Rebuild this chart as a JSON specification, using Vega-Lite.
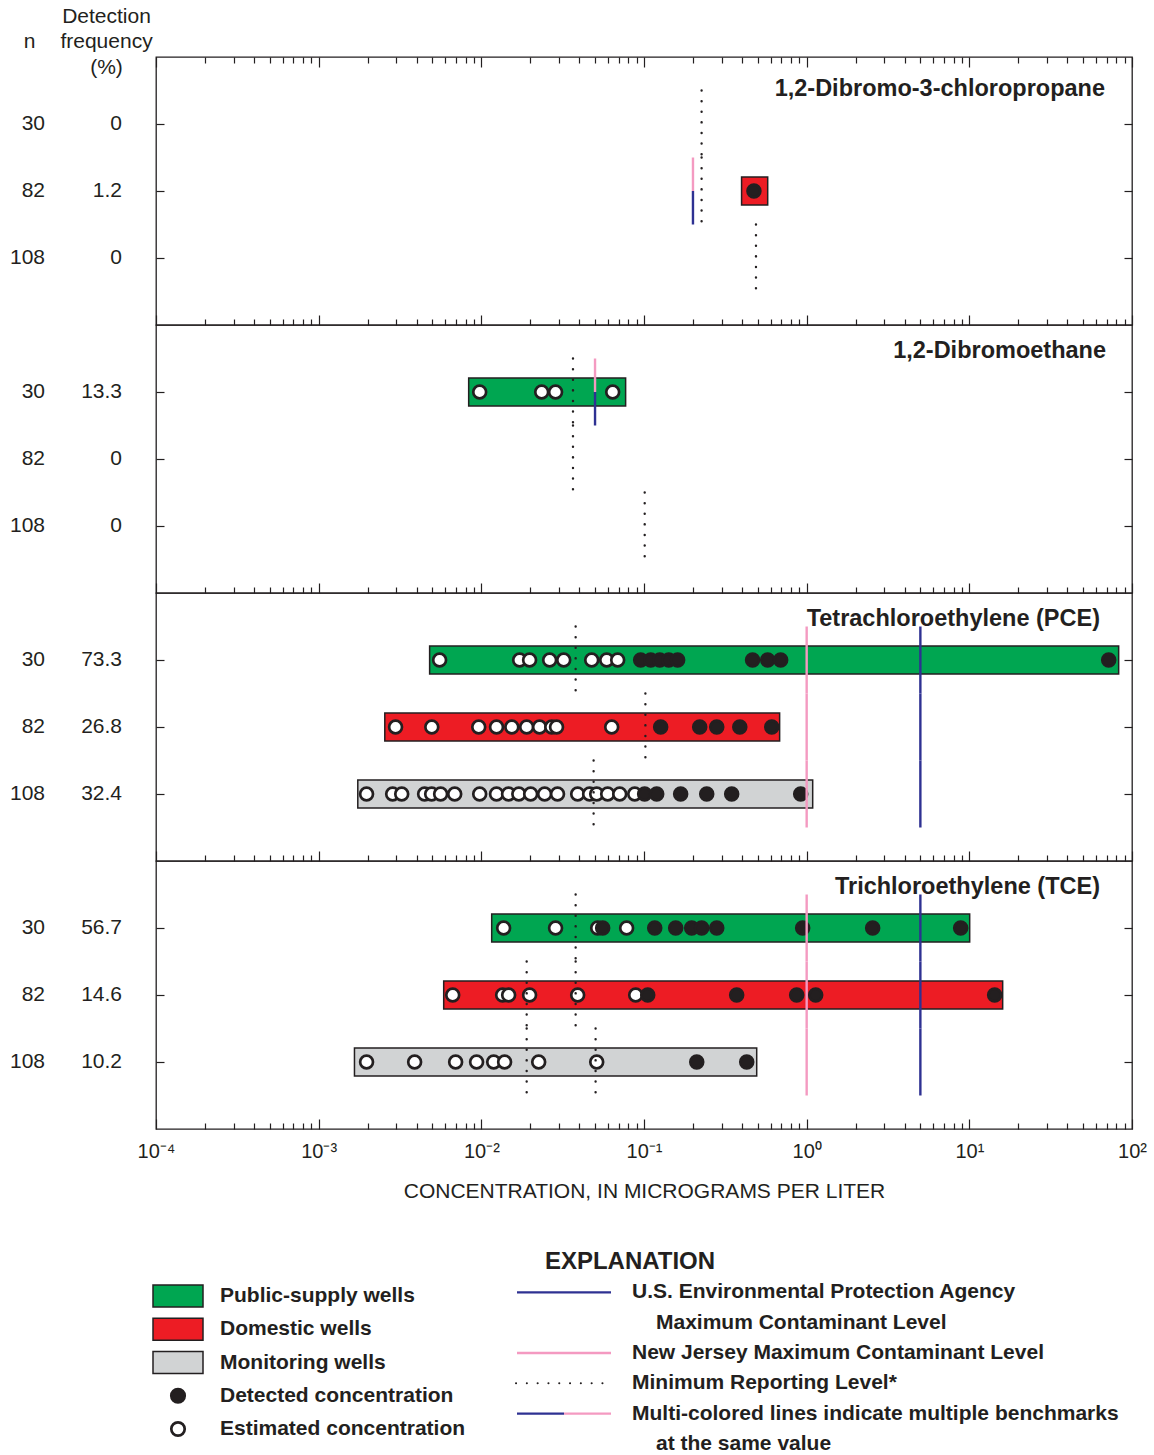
{
  "$schema": "https://vega.github.io/schema/vega-lite/v6.json",
  "background": "#ffffff",
  "padding": {"left": 0, "top": 5, "right": 0, "bottom": 0},
  "config": {
    "font": "Liberation Sans",
    "view": {"stroke": "#231F20", "strokeWidth": 1.3},
    "axis": {"grid": false, "domain": false, "tickColor": "#231F20", "tickWidth": 1.2, "labelColor": "#231F20", "titleColor": "#231F20", "labelFont": "Liberation Sans", "titleFont": "Liberation Sans", "titleFontWeight": "normal"},
    "text": {"font": "Liberation Sans", "color": "#231F20"},
    "title": {"font": "Liberation Sans", "fontWeight": "bold", "fontSize": 23.5, "color": "#231F20"}
  },
  "datasets": {
    "rowinfo": [
      {"chem": "DBCP", "well": "PS", "n": 30, "freq": 0},
      {"chem": "DBCP", "well": "DOM", "n": 82, "freq": 1.2},
      {"chem": "DBCP", "well": "MON", "n": 108, "freq": 0},
      {"chem": "EDB", "well": "PS", "n": 30, "freq": 13.3},
      {"chem": "EDB", "well": "DOM", "n": 82, "freq": 0},
      {"chem": "EDB", "well": "MON", "n": 108, "freq": 0},
      {"chem": "PCE", "well": "PS", "n": 30, "freq": 73.3},
      {"chem": "PCE", "well": "DOM", "n": 82, "freq": 26.8},
      {"chem": "PCE", "well": "MON", "n": 108, "freq": 32.4},
      {"chem": "TCE", "well": "PS", "n": 30, "freq": 56.7},
      {"chem": "TCE", "well": "DOM", "n": 82, "freq": 14.6},
      {"chem": "TCE", "well": "MON", "n": 108, "freq": 10.2}
    ],
    "ranges": [
      {"chem": "DBCP", "well": "DOM", "lo": 0.398, "hi": 0.576},
      {"chem": "EDB", "well": "PS", "lo": 0.00836, "hi": 0.0771},
      {"chem": "PCE", "well": "PS", "lo": 0.00481, "hi": 82.8},
      {"chem": "PCE", "well": "DOM", "lo": 0.00255, "hi": 0.682},
      {"chem": "PCE", "well": "MON", "lo": 0.00174, "hi": 1.089},
      {"chem": "TCE", "well": "PS", "lo": 0.01158, "hi": 10.05},
      {"chem": "TCE", "well": "DOM", "lo": 0.00587, "hi": 16.03},
      {"chem": "TCE", "well": "MON", "lo": 0.00166, "hi": 0.493}
    ],
    "conc": [
      {"chem": "DBCP", "well": "DOM", "value": 0.474, "status": "Detected"},
      {"chem": "EDB", "well": "PS", "value": 0.00977, "status": "Estimated"},
      {"chem": "EDB", "well": "PS", "value": 0.0235, "status": "Estimated"},
      {"chem": "EDB", "well": "PS", "value": 0.0286, "status": "Estimated"},
      {"chem": "EDB", "well": "PS", "value": 0.0642, "status": "Estimated"},
      {"chem": "PCE", "well": "PS", "value": 0.00554, "status": "Estimated"},
      {"chem": "PCE", "well": "PS", "value": 0.0172, "status": "Estimated"},
      {"chem": "PCE", "well": "PS", "value": 0.0198, "status": "Estimated"},
      {"chem": "PCE", "well": "PS", "value": 0.0263, "status": "Estimated"},
      {"chem": "PCE", "well": "PS", "value": 0.0321, "status": "Estimated"},
      {"chem": "PCE", "well": "PS", "value": 0.0477, "status": "Estimated"},
      {"chem": "PCE", "well": "PS", "value": 0.059, "status": "Estimated"},
      {"chem": "PCE", "well": "PS", "value": 0.0689, "status": "Estimated"},
      {"chem": "PCE", "well": "PS", "value": 0.0954, "status": "Detected"},
      {"chem": "PCE", "well": "PS", "value": 0.11, "status": "Detected"},
      {"chem": "PCE", "well": "PS", "value": 0.125, "status": "Detected"},
      {"chem": "PCE", "well": "PS", "value": 0.142, "status": "Detected"},
      {"chem": "PCE", "well": "PS", "value": 0.161, "status": "Detected"},
      {"chem": "PCE", "well": "PS", "value": 0.465, "status": "Detected"},
      {"chem": "PCE", "well": "PS", "value": 0.576, "status": "Detected"},
      {"chem": "PCE", "well": "PS", "value": 0.692, "status": "Detected"},
      {"chem": "PCE", "well": "PS", "value": 71.9, "status": "Detected"},
      {"chem": "PCE", "well": "DOM", "value": 0.00297, "status": "Estimated"},
      {"chem": "PCE", "well": "DOM", "value": 0.00496, "status": "Estimated"},
      {"chem": "PCE", "well": "DOM", "value": 0.00964, "status": "Estimated"},
      {"chem": "PCE", "well": "DOM", "value": 0.0124, "status": "Estimated"},
      {"chem": "PCE", "well": "DOM", "value": 0.0154, "status": "Estimated"},
      {"chem": "PCE", "well": "DOM", "value": 0.019, "status": "Estimated"},
      {"chem": "PCE", "well": "DOM", "value": 0.0228, "status": "Estimated"},
      {"chem": "PCE", "well": "DOM", "value": 0.0271, "status": "Estimated"},
      {"chem": "PCE", "well": "DOM", "value": 0.029, "status": "Estimated"},
      {"chem": "PCE", "well": "DOM", "value": 0.0633, "status": "Estimated"},
      {"chem": "PCE", "well": "DOM", "value": 0.1266, "status": "Detected"},
      {"chem": "PCE", "well": "DOM", "value": 0.22, "status": "Detected"},
      {"chem": "PCE", "well": "DOM", "value": 0.28, "status": "Detected"},
      {"chem": "PCE", "well": "DOM", "value": 0.388, "status": "Detected"},
      {"chem": "PCE", "well": "DOM", "value": 0.61, "status": "Detected"},
      {"chem": "PCE", "well": "MON", "value": 0.00197, "status": "Estimated"},
      {"chem": "PCE", "well": "MON", "value": 0.00285, "status": "Estimated"},
      {"chem": "PCE", "well": "MON", "value": 0.00324, "status": "Estimated"},
      {"chem": "PCE", "well": "MON", "value": 0.00448, "status": "Estimated"},
      {"chem": "PCE", "well": "MON", "value": 0.00495, "status": "Estimated"},
      {"chem": "PCE", "well": "MON", "value": 0.00562, "status": "Estimated"},
      {"chem": "PCE", "well": "MON", "value": 0.00686, "status": "Estimated"},
      {"chem": "PCE", "well": "MON", "value": 0.00977, "status": "Estimated"},
      {"chem": "PCE", "well": "MON", "value": 0.0124, "status": "Estimated"},
      {"chem": "PCE", "well": "MON", "value": 0.0147, "status": "Estimated"},
      {"chem": "PCE", "well": "MON", "value": 0.017, "status": "Estimated"},
      {"chem": "PCE", "well": "MON", "value": 0.0201, "status": "Estimated"},
      {"chem": "PCE", "well": "MON", "value": 0.0245, "status": "Estimated"},
      {"chem": "PCE", "well": "MON", "value": 0.0294, "status": "Estimated"},
      {"chem": "PCE", "well": "MON", "value": 0.0391, "status": "Estimated"},
      {"chem": "PCE", "well": "MON", "value": 0.0463, "status": "Estimated"},
      {"chem": "PCE", "well": "MON", "value": 0.0512, "status": "Estimated"},
      {"chem": "PCE", "well": "MON", "value": 0.0598, "status": "Estimated"},
      {"chem": "PCE", "well": "MON", "value": 0.0709, "status": "Estimated"},
      {"chem": "PCE", "well": "MON", "value": 0.0877, "status": "Estimated"},
      {"chem": "PCE", "well": "MON", "value": 0.1009, "status": "Detected"},
      {"chem": "PCE", "well": "MON", "value": 0.1197, "status": "Detected"},
      {"chem": "PCE", "well": "MON", "value": 0.168, "status": "Detected"},
      {"chem": "PCE", "well": "MON", "value": 0.243, "status": "Detected"},
      {"chem": "PCE", "well": "MON", "value": 0.346, "status": "Detected"},
      {"chem": "PCE", "well": "MON", "value": 0.919, "status": "Detected"},
      {"chem": "TCE", "well": "PS", "value": 0.01371, "status": "Estimated"},
      {"chem": "TCE", "well": "PS", "value": 0.0286, "status": "Estimated"},
      {"chem": "TCE", "well": "PS", "value": 0.0519, "status": "Estimated"},
      {"chem": "TCE", "well": "PS", "value": 0.0557, "status": "Detected"},
      {"chem": "TCE", "well": "PS", "value": 0.0782, "status": "Estimated"},
      {"chem": "TCE", "well": "PS", "value": 0.1164, "status": "Detected"},
      {"chem": "TCE", "well": "PS", "value": 0.1566, "status": "Detected"},
      {"chem": "TCE", "well": "PS", "value": 0.1964, "status": "Detected"},
      {"chem": "TCE", "well": "PS", "value": 0.2262, "status": "Detected"},
      {"chem": "TCE", "well": "PS", "value": 0.28, "status": "Detected"},
      {"chem": "TCE", "well": "PS", "value": 0.945, "status": "Detected"},
      {"chem": "TCE", "well": "PS", "value": 2.545, "status": "Detected"},
      {"chem": "TCE", "well": "PS", "value": 8.845, "status": "Detected"},
      {"chem": "TCE", "well": "DOM", "value": 0.00667, "status": "Estimated"},
      {"chem": "TCE", "well": "DOM", "value": 0.01352, "status": "Estimated"},
      {"chem": "TCE", "well": "DOM", "value": 0.01472, "status": "Estimated"},
      {"chem": "TCE", "well": "DOM", "value": 0.0198, "status": "Estimated"},
      {"chem": "TCE", "well": "DOM", "value": 0.0391, "status": "Estimated"},
      {"chem": "TCE", "well": "DOM", "value": 0.0889, "status": "Estimated"},
      {"chem": "TCE", "well": "DOM", "value": 0.1054, "status": "Detected"},
      {"chem": "TCE", "well": "DOM", "value": 0.3713, "status": "Detected"},
      {"chem": "TCE", "well": "DOM", "value": 0.868, "status": "Detected"},
      {"chem": "TCE", "well": "DOM", "value": 1.136, "status": "Detected"},
      {"chem": "TCE", "well": "DOM", "value": 14.31, "status": "Detected"},
      {"chem": "TCE", "well": "MON", "value": 0.00197, "status": "Estimated"},
      {"chem": "TCE", "well": "MON", "value": 0.00389, "status": "Estimated"},
      {"chem": "TCE", "well": "MON", "value": 0.00695, "status": "Estimated"},
      {"chem": "TCE", "well": "MON", "value": 0.00935, "status": "Estimated"},
      {"chem": "TCE", "well": "MON", "value": 0.01191, "status": "Estimated"},
      {"chem": "TCE", "well": "MON", "value": 0.0139, "status": "Estimated"},
      {"chem": "TCE", "well": "MON", "value": 0.02252, "status": "Estimated"},
      {"chem": "TCE", "well": "MON", "value": 0.0512, "status": "Estimated"},
      {"chem": "TCE", "well": "MON", "value": 0.211, "status": "Detected"},
      {"chem": "TCE", "well": "MON", "value": 0.428, "status": "Detected"}
    ],
    "bench": [
      {"chem": "DBCP", "well": "PS", "kind": "MRL", "span": "full", "value": 0.226},
      {"chem": "DBCP", "well": "DOM", "kind": "MRL", "span": "full", "value": 0.226},
      {"chem": "DBCP", "well": "MON", "kind": "MRL", "span": "full", "value": 0.488},
      {"chem": "DBCP", "well": "DOM", "kind": "NJ", "span": "top", "value": 0.2},
      {"chem": "DBCP", "well": "DOM", "kind": "EPA", "span": "bottom", "value": 0.2},
      {"chem": "EDB", "well": "PS", "kind": "MRL", "span": "full", "value": 0.0366},
      {"chem": "EDB", "well": "DOM", "kind": "MRL", "span": "full", "value": 0.0366},
      {"chem": "EDB", "well": "MON", "kind": "MRL", "span": "full", "value": 0.101},
      {"chem": "EDB", "well": "PS", "kind": "NJ", "span": "top", "value": 0.05},
      {"chem": "EDB", "well": "PS", "kind": "EPA", "span": "bottom", "value": 0.05},
      {"chem": "PCE", "well": "PS", "kind": "MRL", "span": "full", "value": 0.038},
      {"chem": "PCE", "well": "DOM", "kind": "MRL", "span": "full", "value": 0.102},
      {"chem": "PCE", "well": "MON", "kind": "MRL", "span": "full", "value": 0.049},
      {"chem": "PCE", "well": "PS", "kind": "NJ", "span": "full", "value": 1},
      {"chem": "PCE", "well": "DOM", "kind": "NJ", "span": "full", "value": 1},
      {"chem": "PCE", "well": "MON", "kind": "NJ", "span": "full", "value": 1},
      {"chem": "PCE", "well": "PS", "kind": "EPA", "span": "full", "value": 5},
      {"chem": "PCE", "well": "DOM", "kind": "EPA", "span": "full", "value": 5},
      {"chem": "PCE", "well": "MON", "kind": "EPA", "span": "full", "value": 5},
      {"chem": "TCE", "well": "PS", "kind": "MRL", "span": "full", "value": 0.038},
      {"chem": "TCE", "well": "DOM", "kind": "MRL", "span": "full", "value": 0.038},
      {"chem": "TCE", "well": "DOM", "kind": "MRL", "span": "full", "value": 0.019},
      {"chem": "TCE", "well": "MON", "kind": "MRL", "span": "full", "value": 0.019},
      {"chem": "TCE", "well": "MON", "kind": "MRL", "span": "full", "value": 0.0504},
      {"chem": "TCE", "well": "PS", "kind": "NJ", "span": "full", "value": 1},
      {"chem": "TCE", "well": "DOM", "kind": "NJ", "span": "full", "value": 1},
      {"chem": "TCE", "well": "MON", "kind": "NJ", "span": "full", "value": 1},
      {"chem": "TCE", "well": "PS", "kind": "EPA", "span": "full", "value": 5},
      {"chem": "TCE", "well": "DOM", "kind": "EPA", "span": "full", "value": 5},
      {"chem": "TCE", "well": "MON", "kind": "EPA", "span": "full", "value": 5}
    ],
    "legendLeft": [
      {"key": "PS", "sym": "swatch", "label": "Public-supply wells"},
      {"key": "DOM", "sym": "swatch", "label": "Domestic wells"},
      {"key": "MON", "sym": "swatch", "label": "Monitoring wells"},
      {"key": "Detected", "sym": "dot", "label": "Detected concentration"},
      {"key": "Estimated", "sym": "dot", "label": "Estimated concentration"}
    ],
    "legendRight": [
      {"slot": 0, "role": "head", "text": "EXPLANATION"},
      {"slot": 1, "role": "text", "text": "U.S. Environmental Protection Agency"},
      {"slot": 2, "role": "indent", "text": "Maximum Contaminant Level"},
      {"slot": 3, "role": "text", "text": "New Jersey Maximum Contaminant Level"},
      {"slot": 4, "role": "text", "text": "Minimum Reporting Level*"},
      {"slot": 5, "role": "text", "text": "Multi-colored lines indicate multiple benchmarks"},
      {"slot": 6, "role": "indent", "text": "at the same value"}
    ],
    "legendLines": [
      {"slot": 1, "kind": "EPA", "seg": "full"},
      {"slot": 3, "kind": "NJ", "seg": "full"},
      {"slot": 4, "kind": "MRL", "seg": "full"},
      {"slot": 5, "kind": "EPA", "seg": "left"},
      {"slot": 5, "kind": "NJ", "seg": "right"}
    ]
  },
  "columns": 2,
  "align": "each",
  "bounds": "flush",
  "spacing": 0,
  "concat": [
    {
      "width": 156, "height": 268, "view": {"stroke": null},
      "data": {"name": "rowinfo"},
      "transform": [{"filter": "datum.chem === 'DBCP'"}, {"fold": ["n", "freq"], "as": ["col", "val"]}],
      "mark": {"type": "text", "align": "right", "baseline": "middle", "fontSize": 21},
      "encoding": {
        "x": {"field": "col", "type": "nominal", "scale": {"type": "point", "domain": ["n", "freq"], "padding": 0.513, "align": 0.57},
              "axis": {"orient": "top", "ticks": false, "domain": false, "title": null, "labelAngle": 0, "labelFontSize": 21, "labelPadding": 41, "labelBaseline": "middle", "labelAlign": "center", "labelOffset": -16, "labelLineHeight": 25.5, "labelExpr": "datum.value === 'n' ? ['', 'n'] : ['Detection', 'frequency', '(%)']"}},
        "y": {"field": "well", "type": "nominal", "scale": {"type": "band", "domain": ["PS", "DOM", "MON"], "paddingInner": 0, "paddingOuter": 0.5}, "axis": null},
        "text": {"field": "val", "type": "nominal"}
      }
    },
    {
      "width": 976, "height": 268,
      "title": {"text": "1,2-Dibromo-3-chloropropane", "anchor": "end", "frame": "group", "offset": -44, "dx": -27},
      "layer": [
        {"data": {"name": "ranges"}, "transform": [{"filter": "datum.chem === 'DBCP'"}],
         "mark": {"type": "bar", "height": {"band": 0.42}, "stroke": "#231F20", "strokeWidth": 1.5},
         "encoding": {
           "x": {"field": "lo", "type": "quantitative", "scale": {"type": "log", "domain": [0.0001, 100], "nice": false},
                 "axis": {"orient": "bottom", "values": [0.0001, 0.001, 0.01, 0.1, 1, 10, 100], "tickSize": -10, "labels": false, "title": null}},
           "x2": {"field": "hi"},
           "y": {"field": "well", "type": "nominal", "scale": {"type": "band", "domain": ["PS", "DOM", "MON"], "paddingInner": 0, "paddingOuter": 0.5},
                 "axis": {"orient": "left", "tickSize": -8, "labels": false, "title": null}},
           "fill": {"field": "well", "type": "nominal", "scale": {"domain": ["PS", "DOM", "MON", "Detected", "Estimated"], "range": ["#00A651", "#ED1C24", "#D1D3D4", "#231F20", "#FFFFFF"]}, "legend": null}}},
        {"data": {"name": "conc"}, "transform": [{"filter": "datum.chem === 'DBCP'"}],
         "mark": {"type": "circle", "size": 165, "stroke": "#231F20", "strokeWidth": 2.7, "opacity": 1},
         "encoding": {
           "x": {"field": "value", "type": "quantitative", "scale": {"type": "log", "domain": [0.0001, 100], "nice": false},
                 "axis": {"orient": "bottom", "values": [0.0002,0.0003,0.0004,0.0005,0.0006,0.0007,0.0008,0.0009,0.002,0.003,0.004,0.005,0.006,0.007,0.008,0.009,0.02,0.03,0.04,0.05,0.06,0.07,0.08,0.09,0.2,0.3,0.4,0.5,0.6,0.7,0.8,0.9,2,3,4,5,6,7,8,9,20,30,40,50,60,70,80,90], "tickSize": -6, "labels": false, "title": null}},
           "y": {"field": "well", "type": "nominal", "scale": {"type": "band", "domain": ["PS", "DOM", "MON"], "paddingInner": 0, "paddingOuter": 0.5},
                 "axis": {"orient": "right", "tickSize": -8, "labels": false, "title": null}},
           "fill": {"field": "status", "type": "nominal", "scale": {"domain": ["PS", "DOM", "MON", "Detected", "Estimated"], "range": ["#00A651", "#ED1C24", "#D1D3D4", "#231F20", "#FFFFFF"]}, "legend": null}}},
        {"data": {"name": "bench"}, "transform": [{"filter": "datum.chem === 'DBCP' && datum.kind === 'MRL'"}],
         "mark": {"type": "rule", "color": "#231F20", "strokeWidth": 2.4, "strokeDash": [0.1, 10.5], "strokeCap": "round"},
         "encoding": {
           "x": {"field": "value", "type": "quantitative", "scale": {"type": "log", "domain": [0.0001, 100], "nice": false},
                 "axis": {"orient": "top", "values": [0.0001, 0.001, 0.01, 0.1, 1, 10, 100], "tickSize": -10, "labels": false, "title": null}},
           "y": {"field": "well", "type": "nominal", "bandPosition": 0, "scale": {"type": "band", "domain": ["PS", "DOM", "MON"], "paddingInner": 0, "paddingOuter": 0.5}, "axis": null},
           "y2": {"field": "well", "bandPosition": 1}}},
        {"data": {"name": "bench"}, "transform": [{"filter": "datum.chem === 'DBCP' && datum.kind !== 'MRL' && datum.span === 'full'"}],
         "mark": {"type": "rule", "strokeWidth": 2.4},
         "encoding": {
           "x": {"field": "value", "type": "quantitative", "scale": {"type": "log", "domain": [0.0001, 100], "nice": false},
                 "axis": {"orient": "top", "values": [0.0002,0.0003,0.0004,0.0005,0.0006,0.0007,0.0008,0.0009,0.002,0.003,0.004,0.005,0.006,0.007,0.008,0.009,0.02,0.03,0.04,0.05,0.06,0.07,0.08,0.09,0.2,0.3,0.4,0.5,0.6,0.7,0.8,0.9,2,3,4,5,6,7,8,9,20,30,40,50,60,70,80,90], "tickSize": -6, "labels": false, "title": null}},
           "y": {"field": "well", "type": "nominal", "bandPosition": 0, "scale": {"type": "band", "domain": ["PS", "DOM", "MON"], "paddingInner": 0, "paddingOuter": 0.5}, "axis": null},
           "y2": {"field": "well", "bandPosition": 1},
           "stroke": {"field": "kind", "type": "nominal", "scale": {"domain": ["EPA", "NJ"], "range": ["#2E3192", "#F49AC1"]}, "legend": null}}},
        {"data": {"name": "bench"}, "transform": [{"filter": "datum.chem === 'DBCP' && datum.span === 'top'"}],
         "mark": {"type": "rule", "strokeWidth": 2.4},
         "encoding": {
           "x": {"field": "value", "type": "quantitative", "scale": {"type": "log", "domain": [0.0001, 100], "nice": false}, "axis": null},
           "y": {"field": "well", "type": "nominal", "bandPosition": 0, "scale": {"type": "band", "domain": ["PS", "DOM", "MON"], "paddingInner": 0, "paddingOuter": 0.5}, "axis": null},
           "y2": {"field": "well", "bandPosition": 0.5},
           "stroke": {"field": "kind", "type": "nominal", "scale": {"domain": ["EPA", "NJ"], "range": ["#2E3192", "#F49AC1"]}, "legend": null}}},
        {"data": {"name": "bench"}, "transform": [{"filter": "datum.chem === 'DBCP' && datum.span === 'bottom'"}],
         "mark": {"type": "rule", "strokeWidth": 2.4},
         "encoding": {
           "x": {"field": "value", "type": "quantitative", "scale": {"type": "log", "domain": [0.0001, 100], "nice": false}, "axis": null},
           "y": {"field": "well", "type": "nominal", "bandPosition": 0.5, "scale": {"type": "band", "domain": ["PS", "DOM", "MON"], "paddingInner": 0, "paddingOuter": 0.5}, "axis": null},
           "y2": {"field": "well", "bandPosition": 1},
           "stroke": {"field": "kind", "type": "nominal", "scale": {"domain": ["EPA", "NJ"], "range": ["#2E3192", "#F49AC1"]}, "legend": null}}}
      ],
      "resolve": {"axis": {"x": "independent", "y": "independent"}}
    },
    {
      "width": 156, "height": 268, "view": {"stroke": null},
      "data": {"name": "rowinfo"},
      "transform": [{"filter": "datum.chem === 'EDB'"}, {"fold": ["n", "freq"], "as": ["col", "val"]}],
      "mark": {"type": "text", "align": "right", "baseline": "middle", "fontSize": 21},
      "encoding": {
        "x": {"field": "col", "type": "nominal", "scale": {"type": "point", "domain": ["n", "freq"], "padding": 0.513, "align": 0.57}, "axis": null},
        "y": {"field": "well", "type": "nominal", "scale": {"type": "band", "domain": ["PS", "DOM", "MON"], "paddingInner": 0, "paddingOuter": 0.5}, "axis": null},
        "text": {"field": "val", "type": "nominal"}
      }
    },
    {
      "width": 976, "height": 268,
      "title": {"text": "1,2-Dibromoethane", "anchor": "end", "frame": "group", "offset": -37, "dx": -26},
      "layer": [
        {"data": {"name": "ranges"}, "transform": [{"filter": "datum.chem === 'EDB'"}],
         "mark": {"type": "bar", "height": {"band": 0.42}, "stroke": "#231F20", "strokeWidth": 1.5},
         "encoding": {
           "x": {"field": "lo", "type": "quantitative", "scale": {"type": "log", "domain": [0.0001, 100], "nice": false},
                 "axis": {"orient": "bottom", "values": [0.0001, 0.001, 0.01, 0.1, 1, 10, 100], "tickSize": -10, "labels": false, "title": null}},
           "x2": {"field": "hi"},
           "y": {"field": "well", "type": "nominal", "scale": {"type": "band", "domain": ["PS", "DOM", "MON"], "paddingInner": 0, "paddingOuter": 0.5},
                 "axis": {"orient": "left", "tickSize": -8, "labels": false, "title": null}},
           "fill": {"field": "well", "type": "nominal", "scale": {"domain": ["PS", "DOM", "MON", "Detected", "Estimated"], "range": ["#00A651", "#ED1C24", "#D1D3D4", "#231F20", "#FFFFFF"]}, "legend": null}}},
        {"data": {"name": "conc"}, "transform": [{"filter": "datum.chem === 'EDB'"}],
         "mark": {"type": "circle", "size": 165, "stroke": "#231F20", "strokeWidth": 2.7, "opacity": 1},
         "encoding": {
           "x": {"field": "value", "type": "quantitative", "scale": {"type": "log", "domain": [0.0001, 100], "nice": false},
                 "axis": {"orient": "bottom", "values": [0.0002,0.0003,0.0004,0.0005,0.0006,0.0007,0.0008,0.0009,0.002,0.003,0.004,0.005,0.006,0.007,0.008,0.009,0.02,0.03,0.04,0.05,0.06,0.07,0.08,0.09,0.2,0.3,0.4,0.5,0.6,0.7,0.8,0.9,2,3,4,5,6,7,8,9,20,30,40,50,60,70,80,90], "tickSize": -6, "labels": false, "title": null}},
           "y": {"field": "well", "type": "nominal", "scale": {"type": "band", "domain": ["PS", "DOM", "MON"], "paddingInner": 0, "paddingOuter": 0.5},
                 "axis": {"orient": "right", "tickSize": -8, "labels": false, "title": null}},
           "fill": {"field": "status", "type": "nominal", "scale": {"domain": ["PS", "DOM", "MON", "Detected", "Estimated"], "range": ["#00A651", "#ED1C24", "#D1D3D4", "#231F20", "#FFFFFF"]}, "legend": null}}},
        {"data": {"name": "bench"}, "transform": [{"filter": "datum.chem === 'EDB' && datum.kind === 'MRL'"}],
         "mark": {"type": "rule", "color": "#231F20", "strokeWidth": 2.4, "strokeDash": [0.1, 10.5], "strokeCap": "round"},
         "encoding": {
           "x": {"field": "value", "type": "quantitative", "scale": {"type": "log", "domain": [0.0001, 100], "nice": false}, "axis": null},
           "y": {"field": "well", "type": "nominal", "bandPosition": 0, "scale": {"type": "band", "domain": ["PS", "DOM", "MON"], "paddingInner": 0, "paddingOuter": 0.5}, "axis": null},
           "y2": {"field": "well", "bandPosition": 1}}},
        {"data": {"name": "bench"}, "transform": [{"filter": "datum.chem === 'EDB' && datum.span === 'top'"}],
         "mark": {"type": "rule", "strokeWidth": 2.4},
         "encoding": {
           "x": {"field": "value", "type": "quantitative", "scale": {"type": "log", "domain": [0.0001, 100], "nice": false}, "axis": null},
           "y": {"field": "well", "type": "nominal", "bandPosition": 0, "scale": {"type": "band", "domain": ["PS", "DOM", "MON"], "paddingInner": 0, "paddingOuter": 0.5}, "axis": null},
           "y2": {"field": "well", "bandPosition": 0.5},
           "stroke": {"field": "kind", "type": "nominal", "scale": {"domain": ["EPA", "NJ"], "range": ["#2E3192", "#F49AC1"]}, "legend": null}}},
        {"data": {"name": "bench"}, "transform": [{"filter": "datum.chem === 'EDB' && datum.span === 'bottom'"}],
         "mark": {"type": "rule", "strokeWidth": 2.4},
         "encoding": {
           "x": {"field": "value", "type": "quantitative", "scale": {"type": "log", "domain": [0.0001, 100], "nice": false}, "axis": null},
           "y": {"field": "well", "type": "nominal", "bandPosition": 0.5, "scale": {"type": "band", "domain": ["PS", "DOM", "MON"], "paddingInner": 0, "paddingOuter": 0.5}, "axis": null},
           "y2": {"field": "well", "bandPosition": 1},
           "stroke": {"field": "kind", "type": "nominal", "scale": {"domain": ["EPA", "NJ"], "range": ["#2E3192", "#F49AC1"]}, "legend": null}}}
      ],
      "resolve": {"axis": {"x": "independent", "y": "independent"}}
    },
    {
      "width": 156, "height": 268, "view": {"stroke": null},
      "data": {"name": "rowinfo"},
      "transform": [{"filter": "datum.chem === 'PCE'"}, {"fold": ["n", "freq"], "as": ["col", "val"]}],
      "mark": {"type": "text", "align": "right", "baseline": "middle", "fontSize": 21},
      "encoding": {
        "x": {"field": "col", "type": "nominal", "scale": {"type": "point", "domain": ["n", "freq"], "padding": 0.513, "align": 0.57}, "axis": null},
        "y": {"field": "well", "type": "nominal", "scale": {"type": "band", "domain": ["PS", "DOM", "MON"], "paddingInner": 0, "paddingOuter": 0.5}, "axis": null},
        "text": {"field": "val", "type": "nominal"}
      }
    },
    {
      "width": 976, "height": 268,
      "title": {"text": "Tetrachloroethylene (PCE)", "anchor": "end", "frame": "group", "offset": -37, "dx": -32},
      "layer": [
        {"data": {"name": "ranges"}, "transform": [{"filter": "datum.chem === 'PCE'"}],
         "mark": {"type": "bar", "height": {"band": 0.42}, "stroke": "#231F20", "strokeWidth": 1.5},
         "encoding": {
           "x": {"field": "lo", "type": "quantitative", "scale": {"type": "log", "domain": [0.0001, 100], "nice": false},
                 "axis": {"orient": "bottom", "values": [0.0001, 0.001, 0.01, 0.1, 1, 10, 100], "tickSize": -10, "labels": false, "title": null}},
           "x2": {"field": "hi"},
           "y": {"field": "well", "type": "nominal", "scale": {"type": "band", "domain": ["PS", "DOM", "MON"], "paddingInner": 0, "paddingOuter": 0.5},
                 "axis": {"orient": "left", "tickSize": -8, "labels": false, "title": null}},
           "fill": {"field": "well", "type": "nominal", "scale": {"domain": ["PS", "DOM", "MON", "Detected", "Estimated"], "range": ["#00A651", "#ED1C24", "#D1D3D4", "#231F20", "#FFFFFF"]}, "legend": null}}},
        {"data": {"name": "conc"}, "transform": [{"filter": "datum.chem === 'PCE'"}],
         "mark": {"type": "circle", "size": 165, "stroke": "#231F20", "strokeWidth": 2.7, "opacity": 1},
         "encoding": {
           "x": {"field": "value", "type": "quantitative", "scale": {"type": "log", "domain": [0.0001, 100], "nice": false},
                 "axis": {"orient": "bottom", "values": [0.0002,0.0003,0.0004,0.0005,0.0006,0.0007,0.0008,0.0009,0.002,0.003,0.004,0.005,0.006,0.007,0.008,0.009,0.02,0.03,0.04,0.05,0.06,0.07,0.08,0.09,0.2,0.3,0.4,0.5,0.6,0.7,0.8,0.9,2,3,4,5,6,7,8,9,20,30,40,50,60,70,80,90], "tickSize": -6, "labels": false, "title": null}},
           "y": {"field": "well", "type": "nominal", "scale": {"type": "band", "domain": ["PS", "DOM", "MON"], "paddingInner": 0, "paddingOuter": 0.5},
                 "axis": {"orient": "right", "tickSize": -8, "labels": false, "title": null}},
           "fill": {"field": "status", "type": "nominal", "scale": {"domain": ["PS", "DOM", "MON", "Detected", "Estimated"], "range": ["#00A651", "#ED1C24", "#D1D3D4", "#231F20", "#FFFFFF"]}, "legend": null}}},
        {"data": {"name": "bench"}, "transform": [{"filter": "datum.chem === 'PCE' && datum.kind === 'MRL'"}],
         "mark": {"type": "rule", "color": "#231F20", "strokeWidth": 2.4, "strokeDash": [0.1, 10.5], "strokeCap": "round"},
         "encoding": {
           "x": {"field": "value", "type": "quantitative", "scale": {"type": "log", "domain": [0.0001, 100], "nice": false}, "axis": null},
           "y": {"field": "well", "type": "nominal", "bandPosition": 0, "scale": {"type": "band", "domain": ["PS", "DOM", "MON"], "paddingInner": 0, "paddingOuter": 0.5}, "axis": null},
           "y2": {"field": "well", "bandPosition": 1}}},
        {"data": {"name": "bench"}, "transform": [{"filter": "datum.chem === 'PCE' && datum.kind !== 'MRL' && datum.span === 'full'"}],
         "mark": {"type": "rule", "strokeWidth": 2.4},
         "encoding": {
           "x": {"field": "value", "type": "quantitative", "scale": {"type": "log", "domain": [0.0001, 100], "nice": false}, "axis": null},
           "y": {"field": "well", "type": "nominal", "bandPosition": 0, "scale": {"type": "band", "domain": ["PS", "DOM", "MON"], "paddingInner": 0, "paddingOuter": 0.5}, "axis": null},
           "y2": {"field": "well", "bandPosition": 1},
           "stroke": {"field": "kind", "type": "nominal", "scale": {"domain": ["EPA", "NJ"], "range": ["#2E3192", "#F49AC1"]}, "legend": null}}}
      ],
      "resolve": {"axis": {"x": "independent", "y": "independent"}}
    },
    {
      "width": 156, "height": 268, "view": {"stroke": null},
      "data": {"name": "rowinfo"},
      "transform": [{"filter": "datum.chem === 'TCE'"}, {"fold": ["n", "freq"], "as": ["col", "val"]}],
      "mark": {"type": "text", "align": "right", "baseline": "middle", "fontSize": 21},
      "encoding": {
        "x": {"field": "col", "type": "nominal", "scale": {"type": "point", "domain": ["n", "freq"], "padding": 0.513, "align": 0.57}, "axis": null},
        "y": {"field": "well", "type": "nominal", "scale": {"type": "band", "domain": ["PS", "DOM", "MON"], "paddingInner": 0, "paddingOuter": 0.5}, "axis": null},
        "text": {"field": "val", "type": "nominal"}
      }
    },
    {
      "width": 976, "height": 268,
      "title": {"text": "Trichloroethylene (TCE)", "anchor": "end", "frame": "group", "offset": -37, "dx": -32},
      "layer": [
        {"data": {"name": "ranges"}, "transform": [{"filter": "datum.chem === 'TCE'"}],
         "mark": {"type": "bar", "height": {"band": 0.42}, "stroke": "#231F20", "strokeWidth": 1.5},
         "encoding": {
           "x": {"field": "lo", "type": "quantitative", "scale": {"type": "log", "domain": [0.0001, 100], "nice": false},
                 "axis": {"orient": "bottom", "values": [0.0001, 0.001, 0.01, 0.1, 1, 10, 100], "tickSize": -10, "labelFontSize": 20, "labelPadding": 22, "labelFlush": false, "labelOverlap": false,
                          "labelExpr": "'10' + ['⁻⁴', '⁻³', '⁻²', '⁻¹', '⁰', '¹', '²'][round(log(datum.value) / LN10) + 4]",
                          "title": "CONCENTRATION, IN MICROGRAMS PER LITER", "titleFontSize": 21, "titleFontWeight": "normal", "titlePadding": 19}},
           "x2": {"field": "hi"},
           "y": {"field": "well", "type": "nominal", "scale": {"type": "band", "domain": ["PS", "DOM", "MON"], "paddingInner": 0, "paddingOuter": 0.5},
                 "axis": {"orient": "left", "tickSize": -8, "labels": false, "title": null}},
           "fill": {"field": "well", "type": "nominal", "scale": {"domain": ["PS", "DOM", "MON", "Detected", "Estimated"], "range": ["#00A651", "#ED1C24", "#D1D3D4", "#231F20", "#FFFFFF"]}, "legend": null}}},
        {"data": {"name": "conc"}, "transform": [{"filter": "datum.chem === 'TCE'"}],
         "mark": {"type": "circle", "size": 165, "stroke": "#231F20", "strokeWidth": 2.7, "opacity": 1},
         "encoding": {
           "x": {"field": "value", "type": "quantitative", "scale": {"type": "log", "domain": [0.0001, 100], "nice": false},
                 "axis": {"orient": "bottom", "values": [0.0002,0.0003,0.0004,0.0005,0.0006,0.0007,0.0008,0.0009,0.002,0.003,0.004,0.005,0.006,0.007,0.008,0.009,0.02,0.03,0.04,0.05,0.06,0.07,0.08,0.09,0.2,0.3,0.4,0.5,0.6,0.7,0.8,0.9,2,3,4,5,6,7,8,9,20,30,40,50,60,70,80,90], "tickSize": -6, "labels": false, "title": null}},
           "y": {"field": "well", "type": "nominal", "scale": {"type": "band", "domain": ["PS", "DOM", "MON"], "paddingInner": 0, "paddingOuter": 0.5},
                 "axis": {"orient": "right", "tickSize": -8, "labels": false, "title": null}},
           "fill": {"field": "status", "type": "nominal", "scale": {"domain": ["PS", "DOM", "MON", "Detected", "Estimated"], "range": ["#00A651", "#ED1C24", "#D1D3D4", "#231F20", "#FFFFFF"]}, "legend": null}}},
        {"data": {"name": "bench"}, "transform": [{"filter": "datum.chem === 'TCE' && datum.kind === 'MRL'"}],
         "mark": {"type": "rule", "color": "#231F20", "strokeWidth": 2.4, "strokeDash": [0.1, 10.5], "strokeCap": "round"},
         "encoding": {
           "x": {"field": "value", "type": "quantitative", "scale": {"type": "log", "domain": [0.0001, 100], "nice": false}, "axis": null},
           "y": {"field": "well", "type": "nominal", "bandPosition": 0, "scale": {"type": "band", "domain": ["PS", "DOM", "MON"], "paddingInner": 0, "paddingOuter": 0.5}, "axis": null},
           "y2": {"field": "well", "bandPosition": 1}}},
        {"data": {"name": "bench"}, "transform": [{"filter": "datum.chem === 'TCE' && datum.kind !== 'MRL' && datum.span === 'full'"}],
         "mark": {"type": "rule", "strokeWidth": 2.4},
         "encoding": {
           "x": {"field": "value", "type": "quantitative", "scale": {"type": "log", "domain": [0.0001, 100], "nice": false}, "axis": null},
           "y": {"field": "well", "type": "nominal", "bandPosition": 0, "scale": {"type": "band", "domain": ["PS", "DOM", "MON"], "paddingInner": 0, "paddingOuter": 0.5}, "axis": null},
           "y2": {"field": "well", "bandPosition": 1},
           "stroke": {"field": "kind", "type": "nominal", "scale": {"domain": ["EPA", "NJ"], "range": ["#2E3192", "#F49AC1"]}, "legend": null}}}
      ],
      "resolve": {"axis": {"x": "independent", "y": "independent"}}
    },
    {
      "width": 156, "height": 326, "view": {"stroke": null},
      "data": {"values": []},
      "mark": "point"
    },
    {
      "width": 976, "height": 326, "view": {"stroke": null},
      "layer": [
        {"data": {"name": "legendLeft"}, "transform": [{"filter": "datum.sym === 'swatch'"}],
         "mark": {"type": "point", "shape": "M-1,-0.44L1,-0.44L1,0.44L-1,0.44Z", "size": 2500, "filled": true, "stroke": "#231F20", "strokeWidth": 1.5, "opacity": 1},
         "encoding": {
           "x": {"datum": "L", "type": "nominal", "scale": {"type": "point", "domain": ["L", "R"], "range": [22, 408], "padding": 0}, "axis": null},
           "y": {"field": "key", "type": "nominal", "scale": {"type": "point", "domain": ["PS", "DOM", "MON", "Detected", "Estimated"], "range": [167, 300], "padding": 0}, "axis": null},
           "fill": {"field": "key", "type": "nominal", "scale": {"domain": ["PS", "DOM", "MON", "Detected", "Estimated"], "range": ["#00A651", "#ED1C24", "#D1D3D4", "#231F20", "#FFFFFF"]}, "legend": null}}},
        {"data": {"name": "legendLeft"}, "transform": [{"filter": "datum.sym === 'dot'"}],
         "mark": {"type": "circle", "size": 180, "stroke": "#231F20", "strokeWidth": 2.7, "opacity": 1},
         "encoding": {
           "x": {"datum": "L", "type": "nominal", "scale": {"type": "point", "domain": ["L", "R"], "range": [22, 408], "padding": 0}, "axis": null},
           "y": {"field": "key", "type": "nominal", "scale": {"type": "point", "domain": ["PS", "DOM", "MON", "Detected", "Estimated"], "range": [167, 300], "padding": 0}, "axis": null},
           "fill": {"field": "key", "type": "nominal", "scale": {"domain": ["PS", "DOM", "MON", "Detected", "Estimated"], "range": ["#00A651", "#ED1C24", "#D1D3D4", "#231F20", "#FFFFFF"]}, "legend": null}}},
        {"data": {"name": "legendLeft"},
         "mark": {"type": "text", "align": "left", "baseline": "middle", "dx": 42, "fontSize": 21, "fontWeight": "bold"},
         "encoding": {
           "x": {"datum": "L", "type": "nominal", "scale": {"type": "point", "domain": ["L", "R"], "range": [22, 408], "padding": 0}, "axis": null},
           "y": {"field": "key", "type": "nominal", "scale": {"type": "point", "domain": ["PS", "DOM", "MON", "Detected", "Estimated"], "range": [167, 300], "padding": 0}, "axis": null},
           "text": {"field": "label", "type": "nominal"}}},
        {"data": {"name": "legendRight"}, "transform": [{"filter": "datum.role === 'head'"}],
         "mark": {"type": "text", "align": "center", "baseline": "middle", "dx": 66, "fontSize": 24, "fontWeight": "bold"},
         "encoding": {
           "x": {"datum": "R", "type": "nominal", "scale": {"type": "point", "domain": ["L", "R"], "range": [22, 408], "padding": 0}, "axis": null},
           "y": {"field": "slot", "type": "ordinal", "scale": {"type": "point", "domain": [0, 1, 2, 3, 4, 5, 6], "range": [133, 315], "padding": 0}, "axis": null},
           "text": {"field": "text", "type": "nominal"}}},
        {"data": {"name": "legendRight"}, "transform": [{"filter": "datum.role === 'text'"}],
         "mark": {"type": "text", "align": "left", "baseline": "middle", "dx": 68, "fontSize": 21, "fontWeight": "bold"},
         "encoding": {
           "x": {"datum": "R", "type": "nominal", "scale": {"type": "point", "domain": ["L", "R"], "range": [22, 408], "padding": 0}, "axis": null},
           "y": {"field": "slot", "type": "ordinal", "scale": {"type": "point", "domain": [0, 1, 2, 3, 4, 5, 6], "range": [133, 315], "padding": 0}, "axis": null},
           "text": {"field": "text", "type": "nominal"}}},
        {"data": {"name": "legendRight"}, "transform": [{"filter": "datum.role === 'indent'"}],
         "mark": {"type": "text", "align": "left", "baseline": "middle", "dx": 92, "fontSize": 21, "fontWeight": "bold"},
         "encoding": {
           "x": {"datum": "R", "type": "nominal", "scale": {"type": "point", "domain": ["L", "R"], "range": [22, 408], "padding": 0}, "axis": null},
           "y": {"field": "slot", "type": "ordinal", "scale": {"type": "point", "domain": [0, 1, 2, 3, 4, 5, 6], "range": [133, 315], "padding": 0}, "axis": null},
           "text": {"field": "text", "type": "nominal"}}},
        {"data": {"name": "legendLines"}, "transform": [{"filter": "datum.seg === 'full' && datum.kind !== 'MRL'"}],
         "mark": {"type": "rule", "strokeWidth": 2.4, "xOffset": -47, "x2Offset": 47},
         "encoding": {
           "x": {"datum": "R", "type": "nominal", "scale": {"type": "point", "domain": ["L", "R"], "range": [22, 408], "padding": 0}, "axis": null},
           "x2": {"datum": "R"},
           "y": {"field": "slot", "type": "ordinal", "scale": {"type": "point", "domain": [0, 1, 2, 3, 4, 5, 6], "range": [133, 315], "padding": 0}, "axis": null},
           "stroke": {"field": "kind", "type": "nominal", "scale": {"domain": ["EPA", "NJ"], "range": ["#2E3192", "#F49AC1"]}, "legend": null}}},
        {"data": {"name": "legendLines"}, "transform": [{"filter": "datum.kind === 'MRL'"}],
         "mark": {"type": "rule", "color": "#231F20", "strokeWidth": 2, "strokeDash": [0.1, 10.7], "strokeCap": "round", "xOffset": -48, "x2Offset": 49},
         "encoding": {
           "x": {"datum": "R", "type": "nominal", "scale": {"type": "point", "domain": ["L", "R"], "range": [22, 408], "padding": 0}, "axis": null},
           "x2": {"datum": "R"},
           "y": {"field": "slot", "type": "ordinal", "scale": {"type": "point", "domain": [0, 1, 2, 3, 4, 5, 6], "range": [133, 315], "padding": 0}, "axis": null}}},
        {"data": {"name": "legendLines"}, "transform": [{"filter": "datum.seg === 'left'"}],
         "mark": {"type": "rule", "strokeWidth": 2.4, "xOffset": -47, "x2Offset": 0},
         "encoding": {
           "x": {"datum": "R", "type": "nominal", "scale": {"type": "point", "domain": ["L", "R"], "range": [22, 408], "padding": 0}, "axis": null},
           "x2": {"datum": "R"},
           "y": {"field": "slot", "type": "ordinal", "scale": {"type": "point", "domain": [0, 1, 2, 3, 4, 5, 6], "range": [133, 315], "padding": 0}, "axis": null},
           "stroke": {"field": "kind", "type": "nominal", "scale": {"domain": ["EPA", "NJ"], "range": ["#2E3192", "#F49AC1"]}, "legend": null}}},
        {"data": {"name": "legendLines"}, "transform": [{"filter": "datum.seg === 'right'"}],
         "mark": {"type": "rule", "strokeWidth": 2.4, "xOffset": 0, "x2Offset": 47},
         "encoding": {
           "x": {"datum": "R", "type": "nominal", "scale": {"type": "point", "domain": ["L", "R"], "range": [22, 408], "padding": 0}, "axis": null},
           "x2": {"datum": "R"},
           "y": {"field": "slot", "type": "ordinal", "scale": {"type": "point", "domain": [0, 1, 2, 3, 4, 5, 6], "range": [133, 315], "padding": 0}, "axis": null},
           "stroke": {"field": "kind", "type": "nominal", "scale": {"domain": ["EPA", "NJ"], "range": ["#2E3192", "#F49AC1"]}, "legend": null}}}
      ],
      "resolve": {"scale": {"y": "independent"}}
    }
  ]
}
